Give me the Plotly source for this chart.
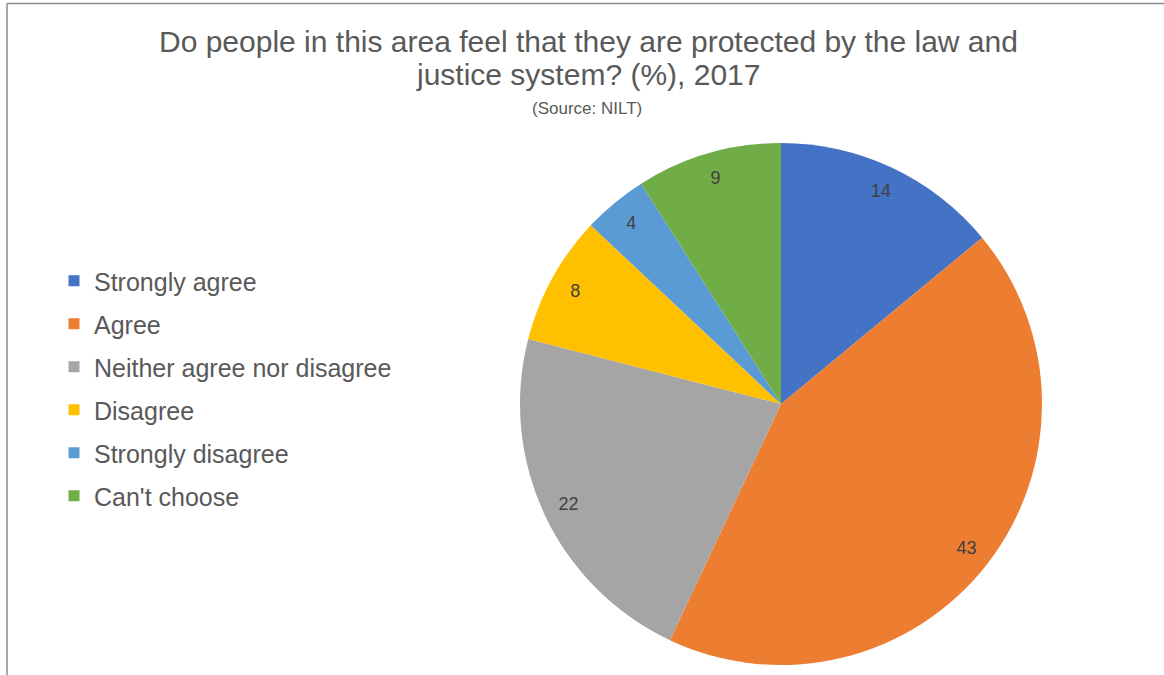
import plotly.graph_objects as go

W, H = 1164, 675

categories = ["Strongly agree", "Agree", "Neither agree nor disagree",
              "Disagree", "Strongly disagree", "Can't choose"]
values = [14, 43, 22, 8, 4, 9]
colors = ["#4472C4", "#ED7D31", "#A5A5A5", "#FFC000", "#5B9BD5", "#70AD47"]

title_line1 = "Do people in this area feel that they are protected by the law and"
title_line2 = "justice system? (%), 2017"
source_text = "(Source: NILT)"

FONT = "Liberation Sans, Arial, sans-serif"

def px_x(p):
    return p / W

def px_y(p):
    return 1 - p / H

pie_domain = dict(x=[px_x(520), px_x(1042)], y=[px_y(665), px_y(143)])

fig = go.Figure()

# main pie
fig.add_trace(go.Pie(
    labels=categories, values=values, sort=False, direction="clockwise",
    rotation=0, marker=dict(colors=colors, line=dict(width=0)),
    textinfo="none", showlegend=False, domain=pie_domain,
    hoverinfo="label+value",
))

# transparent ring pie to place value labels near the rim
fig.add_trace(go.Pie(
    labels=categories, values=values, sort=False, direction="clockwise",
    rotation=0, hole=0.8,
    marker=dict(colors=["rgba(0,0,0,0)"] * len(values), line=dict(width=0)),
    textinfo="value", textposition="inside", insidetextorientation="horizontal",
    textfont=dict(family=FONT, size=18, color="#404040"),
    showlegend=False, domain=pie_domain, hoverinfo="skip",
))

# legend entries
for i, (cat, col) in enumerate(zip(categories, colors)):
    fig.add_trace(go.Scatter(
        x=[None], y=[None], mode="markers", name=cat,
        marker=dict(symbol="square", size=11, color=col),
        legendgroup=f"g{i}", showlegend=True, hoverinfo="skip",
    ))

fig.update_layout(
    width=W, height=H,
    margin=dict(l=0, r=0, t=0, b=0),
    paper_bgcolor="white", plot_bgcolor="white",
    xaxis=dict(visible=False), yaxis=dict(visible=False),
    legend=dict(
        x=px_x(54), y=px_y(258), xanchor="left", yanchor="top",
        font=dict(family=FONT, size=25, color="#595959"),
        tracegroupgap=7.5, traceorder="grouped", bgcolor="rgba(0,0,0,0)",
    ),
    annotations=[
        dict(text=title_line1, x=px_x(588), y=px_y(42), xref="paper", yref="paper",
             xanchor="center", yanchor="middle", showarrow=False,
             font=dict(family=FONT, size=30, color="#595959")),
        dict(text=title_line2, x=px_x(588), y=px_y(74), xref="paper", yref="paper",
             xanchor="center", yanchor="middle", showarrow=False,
             font=dict(family=FONT, size=30, color="#595959")),
        dict(text=source_text, x=px_x(587), y=px_y(108), xref="paper", yref="paper",
             xanchor="center", yanchor="middle", showarrow=False,
             font=dict(family=FONT, size=17, color="#595959")),
    ],
    shapes=[
        dict(type="line", xref="paper", yref="paper", x0=px_x(7), x1=1,
             y0=px_y(3.5), y1=px_y(3.5), line=dict(color="#8a8a8a", width=1.5)),
        dict(type="line", xref="paper", yref="paper", x0=px_x(7), x1=px_x(7),
             y0=px_y(3.5), y1=0, line=dict(color="#8a8a8a", width=1.5)),
    ],
)

fig.write_html("out.html", config={"displayModeBar": False},
               post_script="document.body.style.margin='0';")
